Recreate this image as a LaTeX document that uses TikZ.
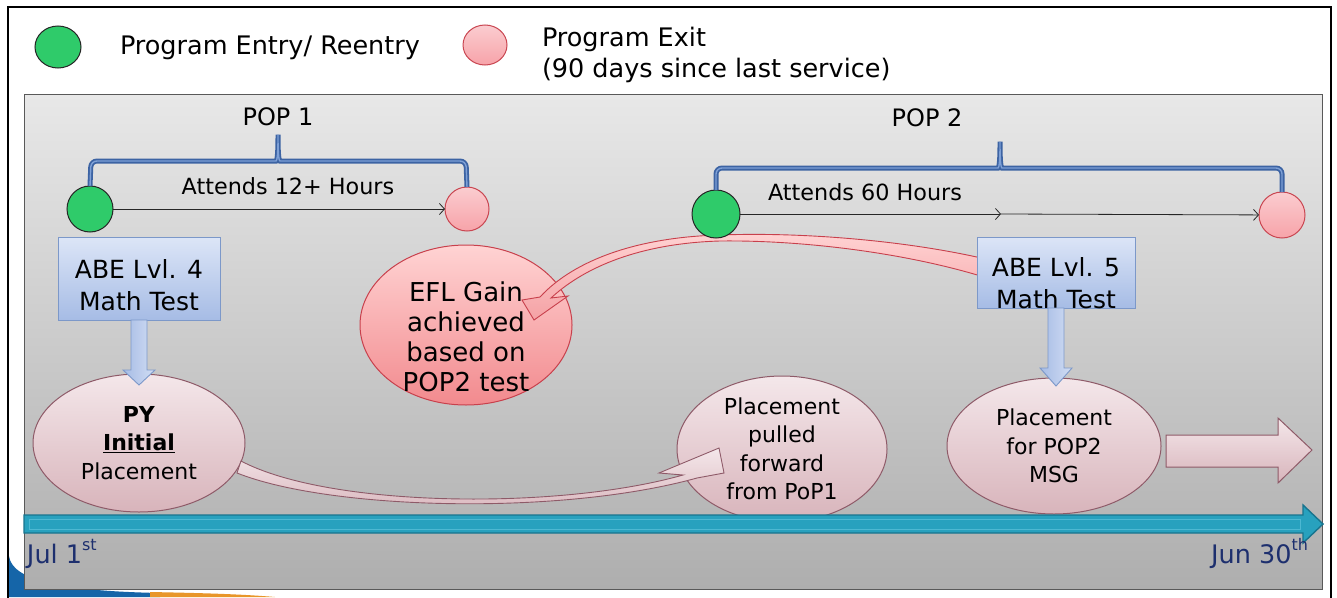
\documentclass[tikz,border=0pt]{standalone}
\usepackage{fontspec}
\setmainfont{DejaVu Sans}
\usetikzlibrary{shapes.geometric,arrows.meta,calc}
\definecolor{grn}{HTML}{2FCB6A}
\definecolor{pinkc}{HTML}{F7A3A9}
\definecolor{pinkd}{HTML}{C94651}
\definecolor{boxtop}{HTML}{DCE5F7}
\definecolor{boxbot}{HTML}{A6BCE5}
\definecolor{boxd}{HTML}{7C98C9}
\definecolor{elltop}{HTML}{F4E7EA}
\definecolor{ellbot}{HTML}{D8B4BB}
\definecolor{elld}{HTML}{8E5A68}
\definecolor{efltop}{HTML}{FFD3D3}
\definecolor{eflbot}{HTML}{F28A8E}
\definecolor{efld}{HTML}{C8404C}
\definecolor{bracec}{HTML}{3C63A3}
\definecolor{bracei}{HTML}{7EA0D6}
\definecolor{tl}{HTML}{28A1BE}
\definecolor{tld}{HTML}{18748E}
\definecolor{tli}{HTML}{4DB8D2}
\definecolor{navy}{HTML}{1D2F6E}
\definecolor{graytop}{HTML}{E8E8E8}
\definecolor{graybot}{HTML}{AEAEAE}
\definecolor{swblue}{HTML}{1565A8}
\definecolor{sworange}{HTML}{E8962A}
\newcommand{\supr}[1]{\raisebox{0.5em}{\fontsize{16}{16}\selectfont #1}}
\begin{document}
\begin{tikzpicture}[x=1pt,y=-1pt,
  every node/.style={inner sep=0pt, outer sep=0pt},
  lbl/.style={font=\fontsize{25.5}{31}\selectfont, text=black},
  poplbl/.style={font=\fontsize{24}{28}\selectfont, text=black},
  gdot/.style={ellipse, draw=black!85, line width=1, fill=grn},
  rdot/.style={ellipse, draw=pinkd, line width=1, top color=pinkc!55, bottom color=pinkc},
  brace/.style={draw=bracec, line width=1.8, double=bracei, double distance=1.4, rounded corners=6},
  conn/.style={-{Straight Barb[length=5pt,width=11pt]}, line width=0.8, draw=black!85},
  attend/.style={font=\fontsize{22.3}{26}\selectfont},
  abebox/.style={rectangle, draw=boxd, line width=1, top color=boxtop, bottom color=boxbot},
  abetext/.style={align=center, font=\fontsize{25}{32}\selectfont},
  place/.style={ellipse, draw=elld, line width=1, top color=elltop, bottom color=ellbot, align=center, font=\fontsize{22}{28.5}\selectfont},
  eflell/.style={ellipse, draw=efld, line width=1, top color=efltop, bottom color=eflbot},
  efltext/.style={align=center, font=\fontsize{26}{30}\selectfont},
  eflarrow/.style={draw=efld, line width=0.9, top color=efltop, bottom color=eflbot!80},
  pyarrow/.style={draw=elld, line width=0.9, top color=elltop, bottom color=ellbot},
  downarrow/.style={draw=boxd, line width=0.9, left color=boxbot, right color=boxtop!80!boxbot},
  blockarrow/.style={draw=elld, line width=1, top color=elltop, bottom color=ellbot},
  tline/.style={fill=tl, draw=tld, line width=1.4},
  datelbl/.style={font=\fontsize{25.5}{28}\selectfont, text=navy}
]
\useasboundingbox (0,0) rectangle (1337,597);
\fill[white] (0,0) rectangle (1337,597);
% template swoosh bottom-left
\fill[swblue] (9,556) .. controls (12,580) and (60,591) .. (160,593) -- (160,597) -- (9,597) -- cycle;
\fill[sworange] (150,592) .. controls (200,593) and (240,594) .. (275,597) -- (150,597) -- cycle;
% outer frame
\draw[black, line width=2.5] (8,600) -- (8,7) -- (1331,7) -- (1331,600);
% gray panel
\draw[draw=black!65, line width=1, top color=graytop, bottom color=graybot] (24,94) rectangle (1322,589);

% legend
\node[gdot, minimum width=46, minimum height=42] (lg) at (58,47) {};
\node[lbl, anchor=west] (lgt) at (120,48) {Program Entry/ Reentry};
\node[rdot, minimum width=44, minimum height=40] (lr) at (485,45) {};
\node[lbl, anchor=west, align=left] (lrt) at (542,55) {Program Exit\\(90 days since last service)};

% EFL ellipse and curved arrow (behind circles and boxes)
\node[eflell, minimum width=212, minimum height=160] (efl) at (466,325) {};
\node[efltext] (eflt) at ($(efl)+(0,12)$) {EFL Gain\\achieved\\based on\\POP2 test};
\node[abebox, minimum width=158, minimum height=71] (abe5) at (1056,272.5) {};
\draw[eflarrow] ($(abe5.west)+(2,-15)$) .. controls (900,240) and (800,232) .. (720,235) .. controls (640,237) and (575,259) .. (540,297) -- (522,300) -- (534,320) -- (568,296) -- (551,298) .. controls (590,262) and (650,243) .. (720,241) .. controls (800,240) and (900,252) .. ($(abe5.west)+(2,3)$) -- cycle;
\node[abebox, minimum width=158, minimum height=71] at (abe5) {};
\node[abetext] (abe5t) at ($(abe5)+(0,11)$) {ABE Lvl. 5\\Math Test};

% POP labels
\node[poplbl] (pop1) at (278,117) {POP 1};
\node[poplbl] (pop2) at (927,118) {POP 2};

% circles
\node[gdot, minimum width=46, minimum height=46] (g1) at (90,209) {};
\node[rdot, minimum width=44, minimum height=44] (r1) at (467,209) {};
\node[gdot, minimum width=48, minimum height=48] (g2) at (716,214) {};
\node[rdot, minimum width=46, minimum height=46] (r2) at (1282,215) {};

% braces
\draw[brace] (g1.north) -- (91,161) -- (270,161) .. controls (277,161) and (278,155) .. (278,131) .. controls (278,155) and (279,161) .. (286,161) -- (466,161) -- (r1.north);
\draw[brace] (g2.north) -- (716,168) -- (992,168) .. controls (999,168) and (1000,162) .. (1000,138) .. controls (1000,162) and (1001,168) .. (1008,168) -- (1282,168) -- (r2.north);

% attendance lines
\draw[conn] (g1) -- (r1);
\node[attend] (att1) at (288,186) {Attends 12+ Hours};
\coordinate (m2) at (1001,214);
\draw[conn] (g2) -- (m2);
\draw[conn] (m2) -- (r2);
\node[attend] (att2) at (865,192) {Attends 60 Hours};

% ABE 4 box
\node[abebox, minimum width=162, minimum height=83] (abe4) at (139,278.5) {};
\node[abetext] (abe4t) at ($(abe4)+(0,7)$) {ABE Lvl. 4\\Math Test};

% placement ellipses
\node[place, minimum width=212, minimum height=138] (py) at (139,443) {\textbf{PY}\\\textbf{\underline{Initial}}\\Placement};
\node[place, minimum width=210, minimum height=146] (pf) at (782,449) {Placement\\pulled\\forward\\from PoP1};
\node[place, minimum width=214, minimum height=136] (p2) at (1054,446) {Placement\\for POP2\\MSG};

% down arrows
\draw[downarrow] ($(abe4.south)+(-8,0)$) -- ++(0,50) -- ++(-8,0) -- ($(py.north)+(0,11)$) -- ($(abe4.south)+(16,50)$) -- ++(-8,0) -- ($(abe4.south)+(8,0)$) -- cycle;
\draw[downarrow] ($(abe5.south)+(-8,0)$) -- ++(0,60) -- ++(-8,0) -- ($(abe5.south |- p2.north)+(0,8)$) -- ($(abe5.south)+(16,60)$) -- ++(-8,0) -- ($(abe5.south)+(8,0)$) -- cycle;

% curved arrow PY -> pulled forward
\draw[pyarrow] ($(py.east)+(-4,18)$) .. controls (330,508) and (560,510) .. (683,475) -- (659,473) -- (719,448) -- (724,473) -- (697,478) .. controls (560,516) and (330,510) .. ($(py.east)+(-8,30)$) -- cycle;

% right block arrow
\draw[blockarrow] (1166,435) -- (1278,435) -- (1278,418) -- (1312,450) -- (1278,483) -- (1278,467) -- (1166,467) -- cycle;

% timeline
\draw[tline] (24,515) -- (1303,515) -- (1303,505) -- (1323,524) -- (1303,543) -- (1303,533) -- (24,533) -- cycle;
\draw[tli, line width=0.8] (29,519) -- (1300,519) -- (1300,529) -- (29,529) -- cycle;

\node[datelbl, anchor=base west] (jul) at (27,563) {Jul 1\supr{st}};
\node[datelbl, anchor=base east] (jun) at (1308,563) {Jun 30\supr{th}};
\end{tikzpicture}
\end{document}
